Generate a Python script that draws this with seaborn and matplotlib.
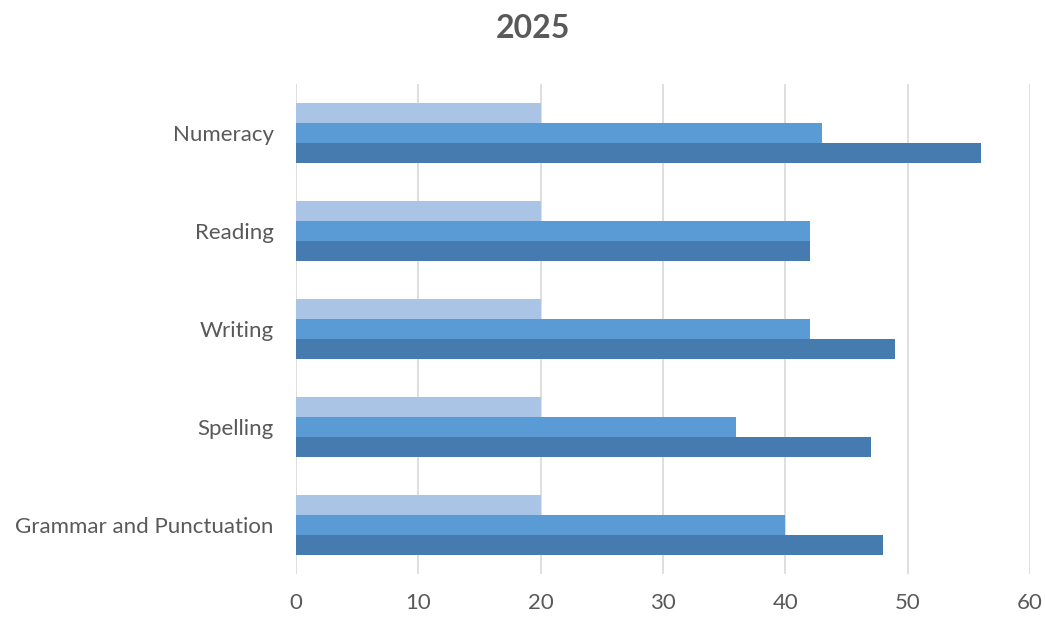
import matplotlib
matplotlib.use("Agg")
import matplotlib.pyplot as plt
import seaborn as sns
import pandas as pd

categories = ["Numeracy", "Reading", "Writing", "Spelling", "Grammar and Punctuation"]
series_names = ["Series 1", "Series 2", "Series 3"]
series1 = [20, 20, 20, 20, 20]
series2 = [43, 42, 42, 36, 40]
series3 = [56, 42, 49, 47, 48]
x_ticks = [0, 10, 20, 30, 40, 50, 60]
title = "2025"

colors = ["#A9C4E4", "#5B9BD5", "#467BB0"]

rows = []
for name, vals in zip(series_names, [series1, series2, series3]):
    for c, v in zip(categories, vals):
        rows.append({"category": c, "series": name, "value": v})
df = pd.DataFrame(rows)

sns.set_style("white")
plt.rcParams["font.family"] = ["Lato", "DejaVu Sans"]

fig = plt.figure(figsize=(10.45, 6.17), dpi=100)
ax = fig.add_axes([296 / 1045, 1 - 574 / 617, (1030 - 296) / 1045, (574 - 84) / 617])

sns.barplot(data=df, y="category", x="value", hue="series", order=categories,
            hue_order=series_names, palette=colors, width=0.61, orient="h",
            saturation=1, legend=False, linewidth=0, edgecolor="none", ax=ax)

ax.set_xlim(0, 60)
ax.set_xticks(x_ticks)
ax.grid(axis="x", color="#D9D9D9", linewidth=1.2)
ax.set_axisbelow(True)
for s in ax.spines.values():
    s.set_visible(False)
ax.set_xlabel("")
ax.set_ylabel("")
ax.tick_params(axis="x", length=0, pad=14, labelsize=16, labelcolor="#595959")
ax.tick_params(axis="y", length=0, pad=16, labelsize=16, labelcolor="#595959")

fig.text(533 / 1045, 1 - 28 / 617, title, ha="center", va="center",
         fontsize=23, fontweight="bold", color="#595959")

fig.savefig("out.png", dpi=100)
